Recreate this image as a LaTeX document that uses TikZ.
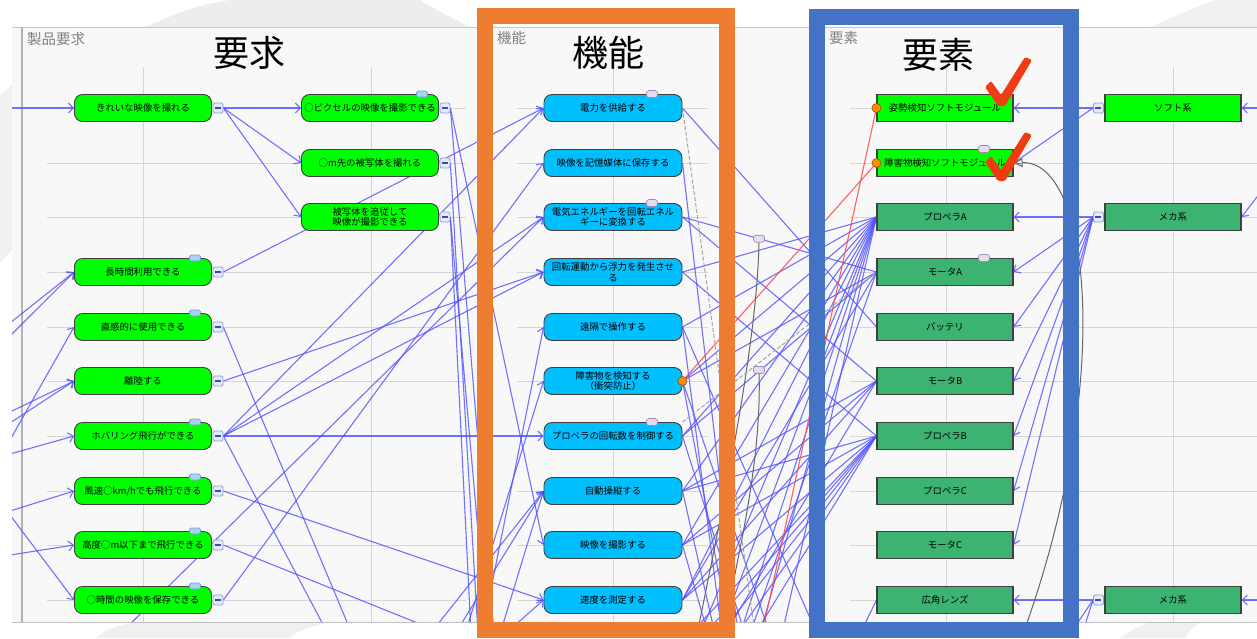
\documentclass[tikz,border=0pt]{standalone}
\usepackage{fontspec}
\setmainfont{Noto Sans CJK JP}
\usetikzlibrary{arrows.meta}
\pgfdeclarelayer{bg}
\pgfsetlayers{bg,main}
\definecolor{reqg}{HTML}{00FF00}
\definecolor{funb}{HTML}{00BFFF}
\definecolor{elmg}{HTML}{3CB371}
\definecolor{lnb}{HTML}{5050FF}
\definecolor{frO}{HTML}{ED7D31}
\definecolor{frB}{HTML}{4472C4}
\definecolor{gridc}{HTML}{D6D6D6}
\definecolor{panelc}{HTML}{F8F8F8}
\definecolor{tabL}{HTML}{E8DDF0}
\definecolor{tabLd}{HTML}{9F88B5}
\definecolor{tabB}{HTML}{A8D4F0}
\definecolor{tabBd}{HTML}{6F9FD0}
\definecolor{minF}{HTML}{E4EBF8}
\definecolor{minD}{HTML}{8CA3D6}
\definecolor{dotO}{HTML}{FF8C00}
\definecolor{chk}{HTML}{F03C14}
\definecolor{redl}{HTML}{FF5050}
\begin{document}
\begin{tikzpicture}[x=1pt,y=-1pt,
  req/.style={draw=black!75, line width=0.9, fill=reqg, rounded corners=8, minimum width=137, minimum height=27, inner sep=1, align=center, font=\fontsize{9.4}{10.5}\selectfont},
  fun/.style={req, fill=funb, minimum width=138},
  elm/.style={draw=black!75, line width=1.1, fill=elmg, minimum width=136, minimum height=27, inner sep=1, font=\fontsize{9.4}{10.5}\selectfont},
  elmh/.style={elm, fill=reqg},
  mbox/.style={draw=minD, fill=minF, rounded corners=1.5, minimum size=10, inner sep=0, line width=0.8,
     path picture={\draw[line width=1.6, draw=blue!45!gray] ([xshift=-3]path picture bounding box.center) -- ([xshift=3]path picture bounding box.center);}},
  tabB/.style={draw=tabBd, fill=tabB, rounded corners=1.5, minimum width=11, minimum height=6, inner sep=0, line width=0.7},
  tabL/.style={draw=tabLd, fill=tabL, rounded corners=2.5, minimum width=11, minimum height=7, inner sep=0, line width=0.7},
  odot/.style={circle, draw=orange!60!black, fill=dotO, minimum size=9, inner sep=0, line width=0.6},
  con/.style={draw=lnb, draw opacity=0.8, line width=1.1},
  arr/.style={con, -{Straight Barb[length=5pt,width=10pt]}},
  redline/.style={draw=redl, line width=1.1, draw opacity=0.9},
  grayline/.style={draw=black!60, line width=1},
  dashline/.style={draw=black!35, line width=1, dash pattern=on 4pt off 2pt},
  lab/.style={text=black!50, font=\fontsize{14.5}{15}\selectfont, inner sep=0},
  ttl/.style={font=\fontsize{36}{40}\selectfont, inner sep=0}
]
\useasboundingbox (0,0) rectangle (1257,638);

% ---------------- requirement nodes
\node[req] (r1) at (143,108) {きれいな映像を撮れる};
\node[req] (r4) at (143,272) {長時間利用できる};
\node[req] (r5) at (143,327) {直感的に使用できる};
\node[req] (r6) at (143,381) {離陸する};
\node[req] (r7) at (143,436) {ホバリング飛行ができる};
\node[req] (r8) at (143,491) {風速○km/hでも飛行できる};
\node[req] (r9) at (143,545) {高度○m以下まで飛行できる};
\node[req] (r10) at (143,600) {○時間の映像を保存できる};
\node[req] (q1) at (370,108) {○ピクセルの映像を撮影できる};
\node[req] (q2) at (370,163) {○m先の被写体を撮れる};
\node[req] (q3) at (370,217) {被写体を追従して\\映像が撮影できる};
\foreach \n in {r1,r4,r5,r6,r7,r8,r9,r10,q1,q2,q3} {\node[mbox] (m\n) at ([xshift=6]\n.east) {};}
\foreach \n in {q1,r4,r5,r7,r8,r9,r10} {\node[tabB] (tb\n) at ([xshift=52]\n.north) {};}

% ---------------- function nodes
\node[fun] (f1) at (613,108) {電力を供給する};
\node[fun] (f2) at (613,163) {映像を記憶媒体に保存する};
\node[fun] (f3) at (613,217) {電気エネルギーを回転エネル\\ギーに変換する};
\node[fun] (f4) at (613,272) {回転運動から浮力を発生させ\\る};
\node[fun] (f5) at (613,327) {遠隔で操作する};
\node[fun] (f6) at (613,381) {障害物を検知する\\（衝突防止）};
\node[fun] (f7) at (613,436) {プロペラの回転数を制御する};
\node[fun] (f8) at (613,491) {自動操縦する};
\node[fun] (f9) at (613,545) {映像を撮影する};
\node[fun] (f10) at (613,600) {速度を測定する};

% ---------------- element nodes
\node[elmh] (e1) at (945,108) {姿勢検知ソフトモジュール};
\node[elmh] (e2) at (945,163) {障害物検知ソフトモジュール};
\node[elm] (e3) at (945,217) {プロペラA};
\node[elm] (e4) at (945,272) {モータA};
\node[elm] (e5) at (945,327) {バッテリ};
\node[elm] (e6) at (945,381) {モータB};
\node[elm] (e7) at (945,436) {プロペラB};
\node[elm] (e8) at (945,491) {プロペラC};
\node[elm] (e9) at (945,545) {モータC};
\node[elm] (e10) at (945,600) {広角レンズ};
\node[elmh] (s1) at (1173,108) {ソフト系};
\node[elm] (s2) at (1173,217) {メカ系};
\node[elm] (s3) at (1173,600) {メカ系};
\foreach \n in {s1,s2,s3} {\node[mbox] (m\n) at ([xshift=-6]\n.west) {};}

\foreach \n in {f1,f3,f7,e2,e4} {\node[tabL] (tl\n) at ([xshift=39]\n.north) {};}
\path (f3.east) -- (e4.west) coordinate[pos=0.395] (t1c);
\node[tabL] (t1) at (t1c) {};
\node[tabL] (t2) at (759,370) {};
\node[odot] (d1) at (f6.east) {};
\node[odot] (d2) at (e1.west) {};
\node[odot] (d3) at (e2.west) {};

% free ends
\foreach \x in {120,328,352,430,445,455,465,471,478,482,487,494,500,505,690,697,700,705,708,715,720,722,725,730,737,738,740,745,750,755,760,762,770,782,817,860,1023,1070,1082}
  {\coordinate (b\x) at (\x,634);}
\foreach \y in {108,323,336,412,423,440,454,511,515,555} {\coordinate (in\y) at (10,\y);}
\coordinate (rin108) at (1260,108);
\coordinate (rin193) at (1260,193);
\coordinate (rin600) at (1260,600);

\begin{pgfonlayer}{bg}
\fill[white] (0,0) rectangle (1257,638);
% faint background swooshes
\fill[black!7] (145,27) .. controls (180,12) and (200,4) .. (230,0) -- (420,0) .. controls (440,12) .. (470,27) -- cycle;
\fill[black!6] (1150,27) .. controls (1185,12) .. (1215,0) -- (1257,0) -- (1257,27) -- cycle;
\fill[black!6] (0,95) -- (12,85) -- (12,250) -- (0,262) -- cycle;
\fill[black!6] (95,638) .. controls (110,628) .. (135,622) -- (330,622) .. controls (300,630) .. (290,638) -- cycle;
\fill[black!6] (1120,638) .. controls (1135,628) .. (1150,622) -- (1200,622) .. controls (1190,630) .. (1185,638) -- cycle;
% panel
\fill[panelc] (12,27) rectangle (1257,622);
\draw[black!22, line width=1] (12,27) -- (1257,27);
\draw[black!30, line width=1.5] (22,27) -- (22,622);
\foreach \y in {108,163,217,272,327,381,436,491,545,600} {
  \draw[gridc, line width=1] (47,\y) -- (466,\y);
  \draw[gridc, line width=1] (517,\y) -- (708,\y);
  \draw[gridc, line width=1] (850,\y) -- (1257,\y);
}
\foreach \x in {143,371,613,946,1173} {\draw[gridc, line width=1] (\x,67) -- (\x,622);}

\begin{scope}
\clip (12,27) rectangle (1257,622);
% inputs on the left
\draw[arr] (in108) -- (r1.west);
\draw[arr] (mr1.east) -- (q1.west);
\draw[arr] (mr1.east) -- (q2.west);
\draw[arr] (mr1.east) -- (q3.west);
\draw[arr] (in323) -- (r4.west);
\draw[arr] (in336) -- (r4.west);
\draw[arr] (in440) -- (r5.west);
\draw[arr] (in412) -- (r6.west);
\draw[arr] (in423) -- (r6.west);
\draw[arr] (in454) -- (r7.west);
\draw[arr] (in511) -- (r8.west);
\draw[arr] (in555) -- (r9.west);
\draw[arr] (in515) -- (r10.west);
% requirements to functions
\draw[arr] (mr4.east) -- (f1.west);
\draw[arr] (mr7.east) -- (f1.west);
\draw[arr] (mr7.east) -- (f3.west);
\draw[arr] (mr7.east) -- (f4.west);
\draw[arr] (mr7.east) -- (f7.west);
\draw[con] (mr7.east) -- (b328);
\draw[con] (mr5.east) -- (b352);
\draw[arr] (mr6.east) -- (f4.west);
\draw[arr] (mr8.east) -- (f10.west);
\draw[con] (mr9.east) -- (b445);
\draw[arr] (mr10.east) -- (f2.west);
\draw[arr] (mq1.east) -- (f9.west);
\draw[con] (mq1.east) -- (b494);
\draw[con] (mq2.east) -- (b478);
\draw[con] (mq3.east) -- (b471);
\draw[con] (mq3.east) -- (b487);
\draw[arr] (b430) -- (f8.west);
\draw[arr] (b455) -- (f8.west);
\draw[arr] (b500) -- (f8.west);
\draw[arr] (b465) -- (f6.west);
\draw[arr] (b482) -- (f5.west);
\draw[arr] (b505) -- (f10.west);
\draw[arr] (b120) -- (f3.west);
% functions to elements
\draw[con] (f1.east) -- (e5.west);
\draw[con] (f2.east) -- (b738);
\draw[con] (f3.east) -- (e4.west);
\draw[con] (f3.east) -- (e6.west);
\draw[con] (f4.east) -- (e3.west);
\draw[con] (f4.east) -- (e7.west);
\draw[con] (f5.east) -- (b817);
\draw[con] (f5.east) -- (b722);
\draw[con] (f6.east) -- (b730);
\draw[con] (f6.east) -- (b770);
\draw[con] (f7.east) -- (b745);
\draw[con] (f8.east) -- (b715);
\draw[con] (f9.east) -- (b708);
\foreach \t in {f5,f6,f7,f8,f9,f10} {\draw[con] (e3.west) -- (\t.east);}
\foreach \t in {b700,b720,b740,b760,b782} {\draw[con] (e3.west) -- (\t);}
\foreach \t in {f6,f7,f10} {\draw[con] (e4.west) -- (\t.east);}
\draw[con] (e4.west) -- (b750);
\foreach \t in {f8,f9,f10} {\draw[con] (e6.west) -- (\t.east);}
\draw[con] (e6.west) -- (b725);
\foreach \t in {f8,f9,f10} {\draw[con] (e7.west) -- (\t.east);}
\foreach \t in {b690,b705,b720,b737,b755} {\draw[con] (e7.west) -- (\t);}
\draw[con] (b860) -- (e10.west);
% systems to elements
\draw[arr] (ms1.west) -- (e1.east);
\draw[arr] (ms1.west) -- (e2.east);
\draw[arr] (ms2.west) -- (e3.east);
\foreach \t in {e4,e5,e6,e7,e8,e9} {\draw[arr] (ms2.west) -- (\t.east);}
\draw[arr] (ms3.west) -- (e10.east);
\draw[con] (ms3.west) -- (b1070);
\draw[con] (ms3.west) -- (b1082);
\draw[arr] (rin108) -- (s1.east);
\draw[arr] (rin193) -- (s2.east);
\draw[arr] (rin600) -- (s3.east);
% red, gray and dashed links
\draw[redline] (f6.east) -- (e2.west);
\draw[redline] (b762) -- (e1.west);
\draw[grayline] (t1) .. controls (757,330) and (735,450) .. (b697);
\draw[grayline] (t2) .. controls (761,450) and (745,530) .. (b722);
\draw[grayline, -{Triangle[open, length=9pt, width=9pt]}] (b1023) .. controls (1115,380) and (1090,160) .. (e2.east);
\draw[dashline] (f1.east) -- (b755);
\draw[dashline] (f7.north east) -- (e4.west);
\end{scope}
\draw[black!25, line width=1] (12,622) -- (1257,622);
\end{pgfonlayer}

% ---------------- frames, titles, labels
\draw[frO, line width=16] (484.5,15.5) rectangle (726.5,629.5);
\draw[frB, line width=16] (817,17) rectangle (1070.5,629.5);

\node[lab, anchor=west] (lb1) at (27,39) {製品要求};
\node[lab, anchor=west] (lb2) at (497,38) {機能};
\node[lab, anchor=west] (lb3) at (829,38) {要素};
\node[ttl] (tt1) at (249,53) {要求};
\node[ttl] (tt2) at (608,53) {機能};
\node[ttl] (tt3) at (938,55) {要素};

\fill[chk, rounded corners=1.5] (985,87) -- (991,81) -- (1001,95) -- (1025,57) -- (1032,60) -- (1005,106) -- (998,106) -- cycle;
\fill[chk, rounded corners=1.5] (985,162) -- (991,156) -- (1001,170) -- (1025,132) -- (1032,135) -- (1005,181) -- (998,181) -- cycle;
\end{tikzpicture}
\end{document}
